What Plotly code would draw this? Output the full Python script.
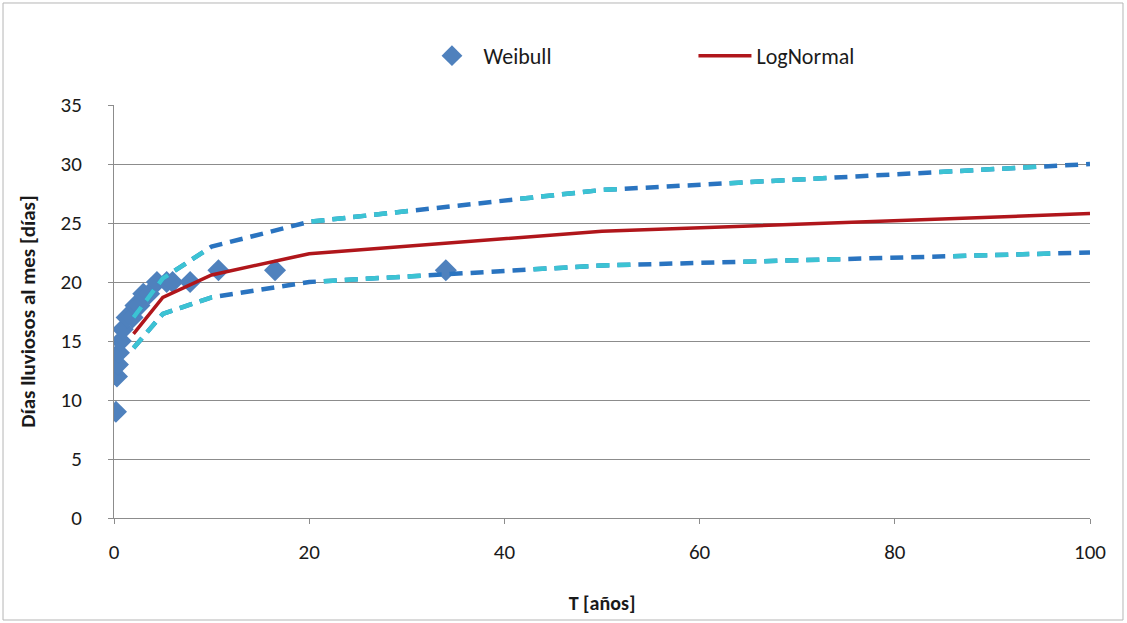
import plotly.graph_objects as go

# Weibull plotting positions: return period T [years] vs. rainy days per month
weibull_T = [0.2, 0.3, 0.4, 0.5, 0.7, 0.9, 1.3, 1.9, 2.2, 2.6, 3.0, 3.6, 4.4, 5.4, 6.0, 7.8, 10.7, 16.5, 34.0]
weibull_days = [9, 12, 13, 14, 15, 16, 17, 17, 18, 18, 19, 19, 20, 20, 20, 20, 21, 21, 21]

# LogNormal fit and its confidence band at the design return periods
model_T = [2, 5, 10, 20, 50, 100]
lognormal_days = [15.6, 18.7, 20.6, 22.4, 24.3, 25.8]
upper_days = [17.0, 20.3, 23.0, 25.1, 27.8, 30.0]
lower_days = [14.4, 17.3, 18.7, 20.0, 21.4, 22.5]

FONT = "Carlito, Lato, 'Open Sans', sans-serif"
DARK_BLUE = "#2a74c0"
CYAN = "#3cc3d3"
RED = "#b0161b"
DIAMOND = "#4f81bd"
GRID = "#8c8c8c"

fig = go.Figure()

fig.add_trace(go.Scatter(
    x=weibull_T, y=weibull_days, mode="markers", name="Weibull",
    marker=dict(symbol="diamond", size=17, color=DIAMOND),
))

fig.add_trace(go.Scatter(
    x=model_T, y=lognormal_days, mode="lines", name="LogNormal",
    line=dict(color=RED, width=3.5),
))

# two overlapping dashed band series; the cyan one only covers some dashes
band_dash = "13px,8px"
cyan_dash = "13px,8px,13px,8px,13px,8px,13px,8px,13px,113px"
for ys in (upper_days, lower_days):
    fig.add_trace(go.Scatter(
        x=model_T, y=ys, mode="lines", showlegend=False, hoverinfo="skip",
        line=dict(color=DARK_BLUE, width=4.5, dash=band_dash),
    ))
    fig.add_trace(go.Scatter(
        x=model_T, y=ys, mode="lines", showlegend=False, hoverinfo="skip",
        line=dict(color=CYAN, width=4.5, dash=cyan_dash),
    ))

fig.update_layout(
    width=1127, height=623,
    margin=dict(l=114, r=37, t=105, b=105),
    paper_bgcolor="white", plot_bgcolor="white",
    font=dict(family=FONT, size=21, color="#1a1a1a"),
    showlegend=True,
    legend=dict(
        orientation="h", x=0.314, y=1.119, xanchor="left", yanchor="middle",
        font=dict(family=FONT, size=22, color="#1a1a1a"),
        itemwidth=53,
        entrywidth=205, entrywidthmode="pixels",
        bgcolor="rgba(0,0,0,0)",
    ),
    xaxis=dict(
        range=[0, 100], dtick=20, tick0=0,
        showgrid=False, zeroline=False,
        showline=True, linecolor=GRID, linewidth=1,
        ticks="outside", ticklen=5, tickcolor=GRID,
        ticklabelstandoff=10,
        tickfont=dict(family=FONT, size=21),
        title=dict(text="<b>T [años]</b>", font=dict(family=FONT, size=20), standoff=31),
    ),
    yaxis=dict(
        range=[0, 35], dtick=5, tick0=0,
        showgrid=True, gridcolor=GRID, gridwidth=1, zeroline=False,
        showline=True, linecolor=GRID, linewidth=1,
        ticks="outside", ticklen=5, tickcolor=GRID,
        ticklabelstandoff=22,
        tickfont=dict(family=FONT, size=21),
        title=dict(text="<b>Días lluviosos al mes [días]</b>", font=dict(family=FONT, size=21), standoff=19),
    ),
    shapes=[dict(
        type="rect", xref="paper", yref="paper",
        x0=-0.1137, x1=1.0338, y0=-0.247, y1=1.247,
        line=dict(color="#b5b5b5", width=1), fillcolor="rgba(0,0,0,0)", layer="below",
    )],
)

fig.write_html("out.html")
